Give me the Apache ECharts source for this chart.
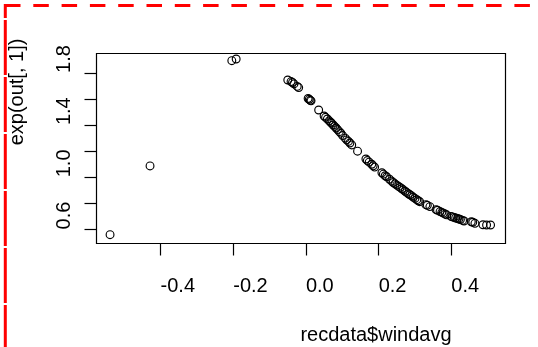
<!DOCTYPE html>
<html>
<head>
<meta charset="utf-8">
<script src="https://cdn.jsdelivr.net/npm/echarts@6/dist/echarts.min.js"></script>
<style>
html,body{margin:0;padding:0;background:#fff;}
#chart{width:538px;height:347px;}
</style>
</head>
<body>
<div id="chart"></div>
<script>
// x values (recdata$windavg)
var windavg = [-0.539, -0.429, -0.204, -0.192, -0.050, -0.041, -0.037, -0.033, -0.024, -0.020,
  0.006, 0.009, 0.012, 0.014, 0.035, 0.050, 0.054, 0.059, 0.064, 0.068, 0.071, 0.075, 0.079,
  0.083, 0.087, 0.092, 0.096, 0.101, 0.108, 0.112, 0.117, 0.121, 0.126, 0.142, 0.165, 0.169,
  0.174, 0.181, 0.185, 0.189, 0.209, 0.213, 0.218, 0.222, 0.230, 0.236, 0.240, 0.245, 0.250,
  0.255, 0.259, 0.264, 0.268, 0.273, 0.277, 0.282, 0.286, 0.291, 0.295, 0.300, 0.305, 0.309,
  0.313, 0.330, 0.334, 0.341, 0.358, 0.362, 0.369, 0.374, 0.378, 0.383, 0.387, 0.399, 0.403,
  0.408, 0.412, 0.417, 0.421, 0.425, 0.431, 0.435, 0.455, 0.459, 0.465, 0.487, 0.497, 0.508];
// y values (exp(out[, 1]))
var expOut = [0.560, 1.087, 1.894, 1.907, 1.746, 1.734, 1.727, 1.716, 1.697, 1.688,
  1.604, 1.598, 1.590, 1.586, 1.516, 1.470, 1.460, 1.447, 1.433, 1.422, 1.414, 1.401, 1.390,
  1.378, 1.366, 1.350, 1.338, 1.320, 1.300, 1.287, 1.275, 1.263, 1.248, 1.200, 1.140, 1.128,
  1.116, 1.100, 1.088, 1.078, 1.035, 1.024, 1.012, 1.004, 0.985, 0.970, 0.960, 0.950, 0.940,
  0.930, 0.922, 0.912, 0.903, 0.893, 0.884, 0.874, 0.866, 0.857, 0.848, 0.838, 0.828, 0.820,
  0.813, 0.790, 0.785, 0.775, 0.752, 0.747, 0.737, 0.731, 0.725, 0.718, 0.712, 0.700, 0.696,
  0.692, 0.688, 0.684, 0.680, 0.676, 0.669, 0.665, 0.659, 0.655, 0.647, 0.636, 0.634, 0.634];
var xTicks = [-0.4, -0.2, 0.0, 0.2, 0.4];
var xTickLabels = [-0.4, -0.2, 0.0, 0.2, 0.4];
var yTicks = [0.6, 0.8, 1.0, 1.2, 1.4, 1.6, 1.8];
var yTickLabels = [0.6, 1.0, 1.4, 1.8];
var xTitle = 'recdata$windavg';
var yTitle = 'exp(out[, 1])';

var pts = windavg.map(function (x, i) { return [x, expOut[i]]; });
var FONT = 'Liberation Sans, Arial, Helvetica, sans-serif';

var chart = echarts.init(document.getElementById('chart'), null, {renderer: 'canvas'});
chart.setOption({
  animation: false,
  backgroundColor: '#fff',
  grid: {
    left: 96.5, top: 53.5, width: 409, height: 190,
    show: true, borderColor: '#000', borderWidth: 1.2, backgroundColor: 'transparent',
    containLabel: false, outerBoundsMode: 'none'
  },
  xAxis: {
    type: 'value', min: -0.5763, max: 0.5491, position: 'bottom',
    axisLine: {show: false, onZero: false},
    splitLine: {show: false},
    axisTick: {show: true, inside: false, length: 12, customValues: xTicks,
      lineStyle: {color: '#000', width: 1.2}},
    axisLabel: {show: true, customValues: xTickLabels, align: 'left', margin: 32.5,
      fontSize: 20, fontFamily: FONT, color: '#000',
      formatter: function (v) { return Number(v).toFixed(1); }}
  },
  yAxis: {
    type: 'value', min: 0.4922, max: 1.9492, position: 'left',
    axisLine: {show: false, onZero: false},
    splitLine: {show: false},
    axisTick: {show: true, inside: false, length: 12, customValues: yTicks,
      lineStyle: {color: '#000', width: 1.2}},
    axisLabel: {show: true, customValues: yTickLabels, rotate: 90, align: 'left', margin: 22.5,
      fontSize: 20, fontFamily: FONT, color: '#000',
      formatter: function (v) { return Number(v).toFixed(1); }}
  },
  series: [{
    type: 'scatter',
    data: pts,
    symbol: 'circle',
    symbolSize: 7.8,
    itemStyle: {color: 'rgba(0,0,0,0)', borderColor: '#000', borderWidth: 1.15, opacity: 1},
    emphasis: {disabled: true}
  }],
  graphic: [
    {type: 'text', x: 300.4, y: 335.6, silent: true,
      style: {text: xTitle, font: '20px ' + FONT, fill: '#000', textAlign: 'left', textVerticalAlign: 'middle'}},
    {type: 'text', x: 17.5, y: 92, rotation: Math.PI / 2, silent: true,
      style: {text: yTitle, font: '20px ' + FONT, fill: '#000', textAlign: 'center', textVerticalAlign: 'middle'}},
    {type: 'line', silent: true, shape: {x1: 4, y1: 5.6, x2: 538, y2: 5.6},
      style: {stroke: '#ff0000', lineWidth: 3, lineDash: [15.5, 12.8], lineDashOffset: -1}},
    {type: 'line', silent: true, shape: {x1: 5.3, y1: 4, x2: 5.3, y2: 347},
      style: {stroke: '#ff0000', lineWidth: 3, lineDash: [55, 2], lineDashOffset: -16}}
  ]
});
</script>
</body>
</html>
